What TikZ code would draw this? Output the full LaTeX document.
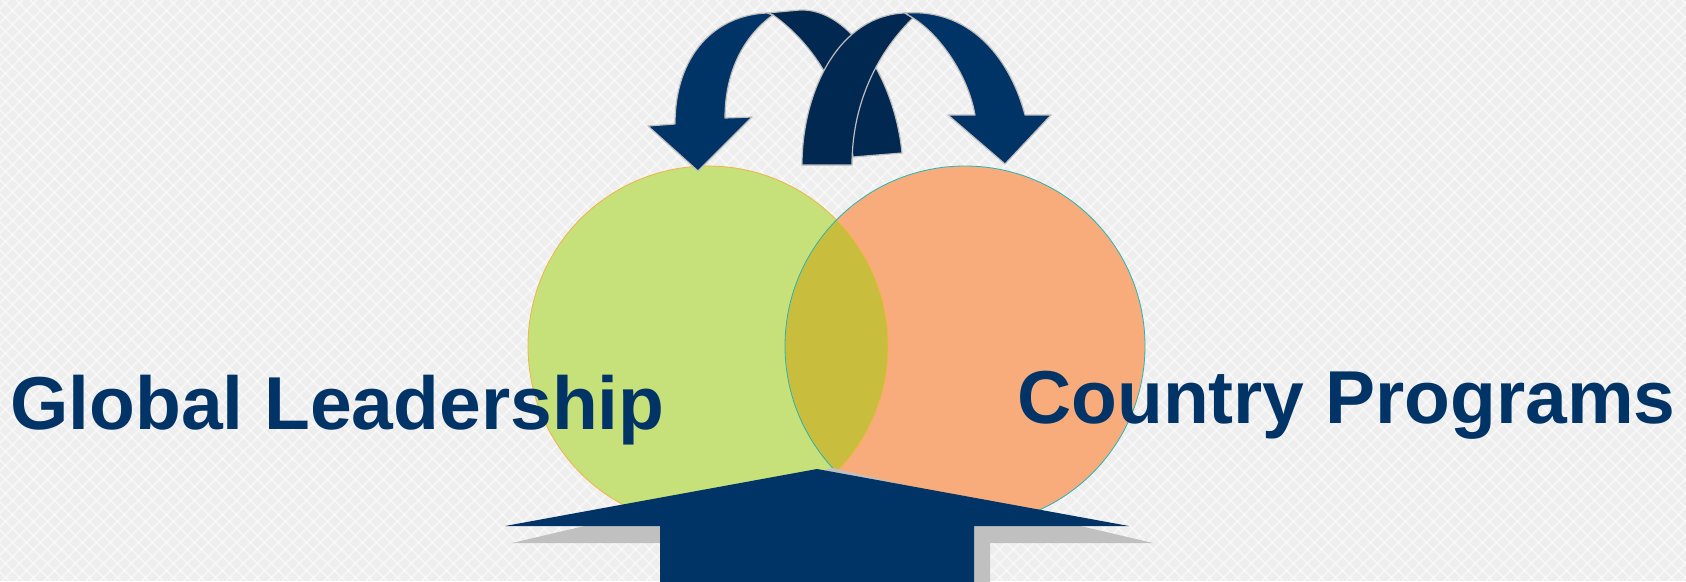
\documentclass[tikz,border=0pt]{standalone}
\usepackage{fontspec}
\setmainfont{Liberation Sans}
\definecolor{bgc}{RGB}{238,238,238}
\definecolor{navy}{RGB}{0,51,102}
\definecolor{navydark}{RGB}{0,40,80}
\definecolor{vgreen}{RGB}{198,224,122}
\definecolor{vorange}{RGB}{249,172,123}
\definecolor{vover}{RGB}{201,189,61}
\definecolor{vgreenline}{RGB}{240,180,70}
\definecolor{vorangeline}{RGB}{40,180,180}
\definecolor{shadowc}{RGB}{192,192,192}
\definecolor{ribline}{RGB}{190,190,190}
\tikzset{
  hatch/.style={white, opacity=0.55, line width=1.6pt},
  vennc/.style={circle, minimum size=360pt, inner sep=0pt, outer sep=0pt},
  lbl/.style={text=navy, inner sep=0pt, font=\fontsize{75}{80}\selectfont\bfseries},
  ribbonlight/.style={fill=navy, draw=ribline, line width=1.2pt, line join=round},
  ribbondark/.style={fill=navydark, draw=ribline, line width=1.2pt, line join=round},
}
\begin{document}
\begin{tikzpicture}[x=1pt,y=-1pt]
\useasboundingbox (0,0) rectangle (1686,581);
% background
\fill[bgc] (0,0) rectangle (1686,581);
\begin{scope}
\clip (0,0) rectangle (1686,581);
\foreach \i in {-600,-586,...,1700} {
  \draw[hatch] (\i,0) -- ++(581,581);
  \draw[hatch] (\i,581) -- ++(581,-581);
}
\end{scope}
% venn circles
\node[vennc, fill=vgreen] (gl) at (708,346) {};
\node[vennc, fill=vorange] (cp) at (965,346) {};
\begin{scope}
\clip (708,346) circle[radius=180];
\fill[vover] (965,346) circle[radius=180];
\end{scope}
\draw[vgreenline, line width=0.8pt] (gl.center) circle[radius=180];
\draw[vorangeline, line width=0.8pt] (cp.center) circle[radius=180];
% labels
\node[lbl, anchor=base west] (t1) at (10,429) {Global Leadership};
\node[lbl, anchor=base west] (t2) at (1017,423) {Country Programs};
% bottom arrow shadow and arrow
\fill[shadowc] (512,543) -- (832.5,468) -- (1153,543) -- (990,543) -- (990,590) -- (675,590) -- (675,543) -- cycle;
\fill[navy] (817,469) -- (1129,526) -- (974,526) -- (974,590) -- (660,590) -- (660,526) -- (505,526) -- cycle;
% arc A (left arrow): back part, then front leg with head
\filldraw[ribbondark] (767,13) -- (800,10) .. controls (850,8) and (895,80) .. (902,153) -- (853,157) .. controls (845,95) and (815,45) .. (773,15) -- cycle;
\filldraw[ribbonlight] (648,126) -- (675,124) .. controls (675,55) and (715,15) .. (767,13) -- (773,15) .. controls (745,35) and (725,70) .. (725,118) -- (752,117) -- (698,171) -- cycle;
% arc B (right arrow): back leg, then front leg with head
\filldraw[ribbondark] (802,165) .. controls (802,90) and (840,15) .. (905,13) -- (913,18) .. controls (880,50) and (852,100) .. (852,165) -- cycle;
\filldraw[ribbonlight] (905,13) .. controls (975,8) and (1012,65) .. (1025,115) -- (1051,115) -- (1005,164) -- (948,115) -- (975,115) .. controls (968,75) and (940,35) .. (913,18) -- cycle;
\end{tikzpicture}
\end{document}
